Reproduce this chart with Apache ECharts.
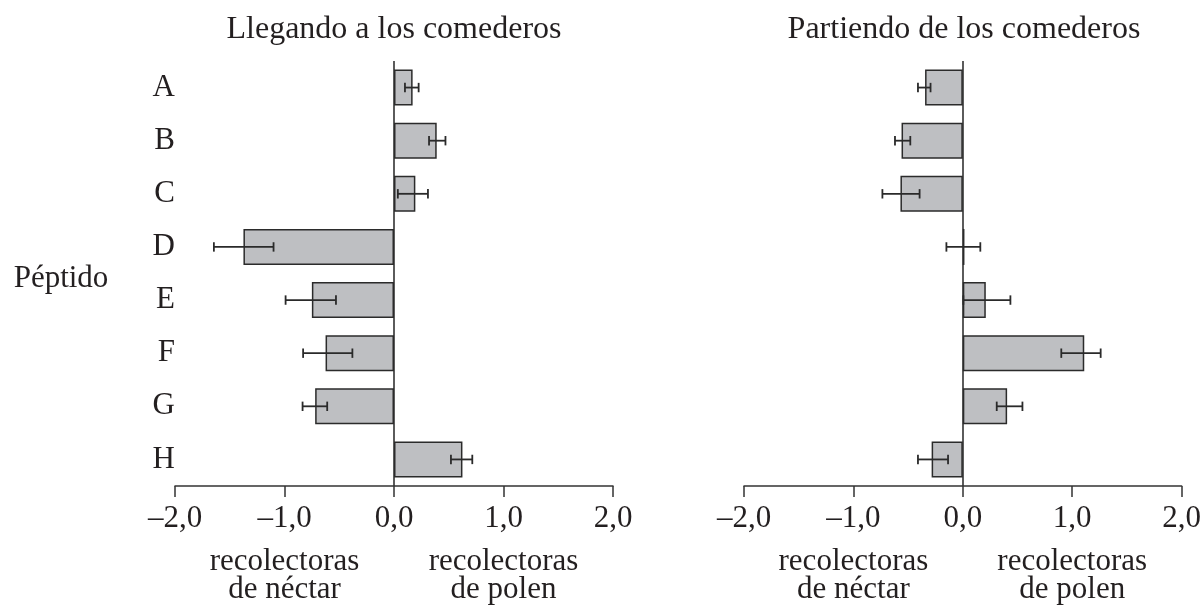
<!DOCTYPE html>
<html>
<head>
<meta charset="utf-8">
<script src="https://cdn.jsdelivr.net/npm/echarts@6/dist/echarts.min.js"></script>
<style>
html,body{margin:0;padding:0;background:#fff;}
#chart{width:1204px;height:610px;}
</style>
</head>
<body>
<div id="chart"></div>
<script>
// ---- data ----
var categories = ['A', 'B', 'C', 'D', 'E', 'F', 'G', 'H'];
var arrivingMean = [0.17, 0.39, 0.195, -1.375, -0.75, -0.625, -0.72, 0.625];
var arrivingLow  = [0.10, 0.32, 0.035, -1.645, -0.99, -0.83, -0.835, 0.52];
var arrivingHigh = [0.225, 0.47, 0.31, -1.10, -0.53, -0.38, -0.61, 0.715];
var departingMean = [-0.345, -0.56, -0.57, 0.015, 0.21, 1.11, 0.405, -0.285];
var departingLow  = [-0.41, -0.62, -0.735, -0.15, 0.005, 0.90, 0.31, -0.41];
var departingHigh = [-0.295, -0.48, -0.395, 0.16, 0.435, 1.26, 0.545, -0.135];
var tickValues = [-2, -1, 0, 1, 2];
var tickLabels = ['\u20132,0', '\u20131,0', '0,0', '1,0', '2,0'];
var sideLabels = { '-1': ['recolectoras', 'de n\u00e9ctar'], '1': ['recolectoras', 'de polen'] };
var panelTitles = ['Llegando a los comederos', 'Partiendo de los comederos'];
var axisName = 'P\u00e9ptido';

// ---- styling ----
var FONT = '"Liberation Serif", "Times New Roman", serif';
var TXT = '#231f20';
var FS = 31;

function xLabel(v) {
  var i = tickValues.indexOf(v);
  if (i < 0) return '';
  var s = '{t|' + tickLabels[i] + '}';
  var side = sideLabels[String(v)];
  if (side) s += '\n{s|' + side[0] + '}\n{s|' + side[1] + '}';
  return s;
}

function errorSeries(gridIdx, low, high) {
  var data = categories.map(function (c, i) { return [i, low[i], high[i]]; });
  return {
    type: 'custom',
    xAxisIndex: gridIdx, yAxisIndex: gridIdx,
    data: data,
    z: 5,
    silent: true,
    encode: { x: [1, 2], y: 0 },
    renderItem: function (params, api) {
      var ci = api.value(0);
      var p1 = api.coord([api.value(1), ci]);
      var p2 = api.coord([api.value(2), ci]);
      var h = 4.7;
      var st = { stroke: '#2a2a2a', lineWidth: 1.8, fill: null };
      return {
        type: 'group',
        children: [
          { type: 'line', shape: { x1: p1[0], y1: p1[1], x2: p2[0], y2: p2[1] }, style: st },
          { type: 'line', shape: { x1: p1[0], y1: p1[1] - h, x2: p1[0], y2: p1[1] + h }, style: st },
          { type: 'line', shape: { x1: p2[0], y1: p2[1] - h, x2: p2[0], y2: p2[1] + h }, style: st }
        ]
      };
    }
  };
}

function barSeries(gridIdx, values) {
  return {
    type: 'bar',
    xAxisIndex: gridIdx, yAxisIndex: gridIdx,
    data: values,
    barWidth: 36,
    itemStyle: { color: '#bebfc2', borderColor: '#2b2b2b', borderWidth: 1.5 },
    z: 3,
    markLine: {
      silent: true,
      symbol: ['none', 'none'],
      label: { show: false },
      lineStyle: { color: '#333333', width: 1.6, type: 'solid' },
      data: [{ xAxis: 0 }],
      z: 2
    }
  };
}

function xAxisDef(gridIdx) {
  return {
    type: 'value', gridIndex: gridIdx,
    min: -2, max: 2, interval: 1,
    splitLine: { show: false },
    axisLine: { show: true, lineStyle: { color: '#333333', width: 1.5 } },
    axisTick: { show: true, length: 11, lineStyle: { color: '#333333', width: 1.5 } },
    axisLabel: {
      show: true, margin: 3, color: TXT, fontFamily: FONT,
      formatter: xLabel,
      rich: {
        t: { fontSize: FS, fontFamily: FONT, color: TXT, lineHeight: 59 },
        s: { fontSize: FS, fontFamily: FONT, color: TXT, lineHeight: 28 }
      }
    }
  };
}

function yAxisDef(gridIdx, showLabels) {
  return {
    type: 'category', gridIndex: gridIdx,
    data: categories, inverse: true,
    axisLine: { show: false },
    axisTick: { show: false },
    axisLabel: { show: showLabels, margin: 0, fontSize: FS, fontFamily: FONT, color: TXT }
  };
}

var chart = echarts.init(document.getElementById('chart'));
chart.setOption({
  animation: false,
  backgroundColor: '#ffffff',
  title: [
    { text: panelTitles[0], left: 394, top: 12, textAlign: 'center', padding: 0,
      textStyle: { fontSize: 32, fontFamily: FONT, color: TXT, fontWeight: 'normal', lineHeight: 36 } },
    { text: panelTitles[1], left: 964, top: 12, textAlign: 'center', padding: 0,
      textStyle: { fontSize: 32, fontFamily: FONT, color: TXT, fontWeight: 'normal', lineHeight: 36 } },
    { text: axisName, left: 61, top: 261, textAlign: 'center', padding: 0,
      textStyle: { fontSize: FS, fontFamily: FONT, color: TXT, fontWeight: 'normal', lineHeight: 36 } }
  ],
  grid: [
    { left: 175, width: 438, top: 61, height: 425 },
    { left: 744, width: 438, top: 61, height: 425 }
  ],
  xAxis: [xAxisDef(0), xAxisDef(1)],
  yAxis: [yAxisDef(0, true), yAxisDef(1, false)],
  series: [
    barSeries(0, arrivingMean),
    errorSeries(0, arrivingLow, arrivingHigh),
    barSeries(1, departingMean),
    errorSeries(1, departingLow, departingHigh)
  ]
});
</script>
</body>
</html>
